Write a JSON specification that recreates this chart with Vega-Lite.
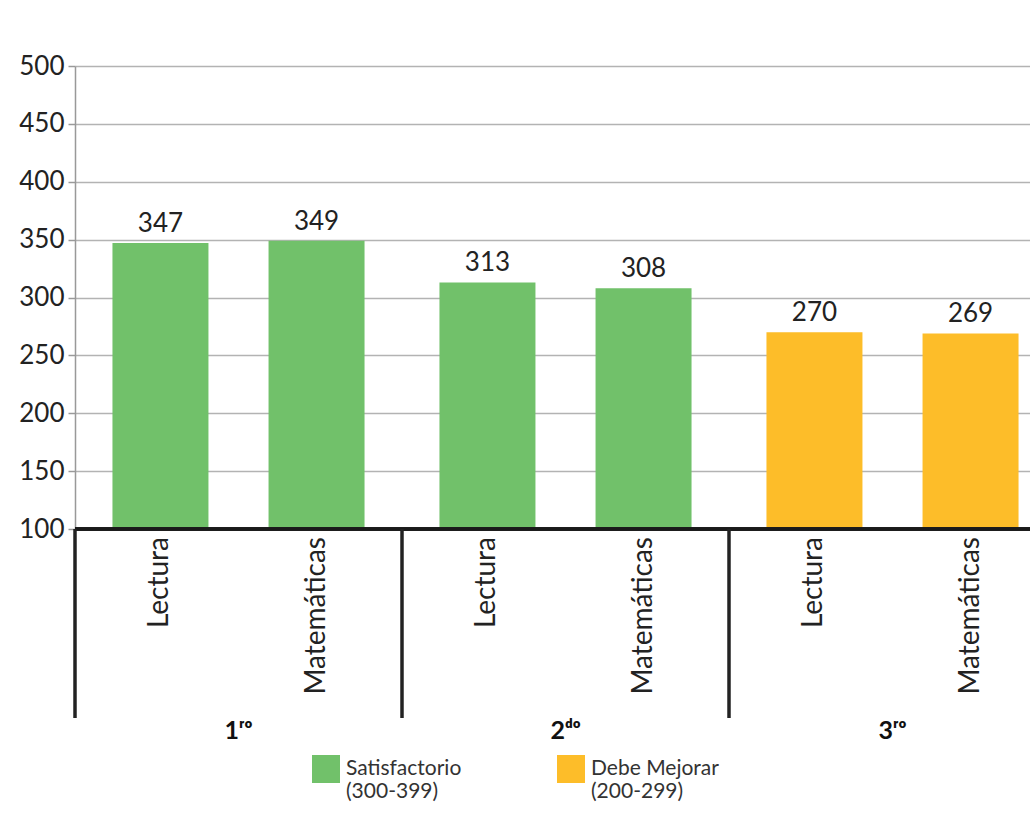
{
  "$schema": "https://vega.github.io/schema/vega-lite/v6.json",
  "background": "white",
  "padding": {"left": 15, "top": 53, "right": 0, "bottom": 0},
  "bounds": "flush",
  "config": {"font": "Lato", "view": {"stroke": null}},
  "spacing": 0,
  "data": {"values": [
    {"grade": "1ʳᵒ", "subject": "Lectura", "score": 347, "nivel": "Satisfactorio|(300-399)"},
    {"grade": "1ʳᵒ", "subject": "Matemáticas", "score": 349, "nivel": "Satisfactorio|(300-399)"},
    {"grade": "2ᵈᵒ", "subject": "Lectura", "score": 313, "nivel": "Satisfactorio|(300-399)"},
    {"grade": "2ᵈᵒ", "subject": "Matemáticas", "score": 308, "nivel": "Satisfactorio|(300-399)"},
    {"grade": "3ʳᵒ", "subject": "Lectura", "score": 270, "nivel": "Debe Mejorar|(200-299)"},
    {"grade": "3ʳᵒ", "subject": "Matemáticas", "score": 269, "nivel": "Debe Mejorar|(200-299)"}
  ]},
  "vconcat": [
    {
      "width": 981,
      "height": 463,
      "layer": [
        {
          "mark": {"type": "bar"},
          "encoding": {
            "x": {"field": "grade", "type": "nominal", "sort": null, "scale": {"paddingInner": 0, "paddingOuter": 0}, "axis": null},
            "xOffset": {"field": "subject", "type": "nominal", "sort": null, "scale": {"paddingInner": 0.385, "paddingOuter": 0.24}},
            "y": {"field": "score", "type": "quantitative", "scale": {"domain": [100, 500], "nice": false, "zero": false},
              "axis": {"values": [100, 150, 200, 250, 300, 350, 400, 450, 500], "title": null, "grid": true, "gridColor": "#b3b3b3", "gridWidth": 1.5, "domainColor": "#999999", "domainWidth": 1.5, "tickColor": "#999999", "tickSize": 7, "tickWidth": 1.5, "labelFontSize": 26, "labelColor": "#222222", "labelPadding": 4, "minExtent": 60, "maxExtent": 60}},
            "y2": {"datum": 100},
            "color": {"field": "nivel", "type": "nominal",
              "scale": {"domain": ["Satisfactorio|(300-399)", "Debe Mejorar|(200-299)"], "range": ["#71c16a", "#fdbd29"]},
              "legend": {"orient": "none", "legendX": 237, "legendY": 689, "direction": "horizontal", "columns": 2, "title": null, "symbolType": "square", "symbolSize": 784, "symbolStrokeWidth": 0, "symbolOpacity": 1, "labelFontSize": 21, "labelColor": "#333333", "labelOffset": 6, "columnPadding": 95, "labelLimit": 300, "labelExpr": "split(datum.label, '|')"}}
          }
        },
        {
          "mark": {"type": "text", "baseline": "bottom", "dy": -6, "fontSize": 26, "color": "#222222"},
          "encoding": {
            "x": {"field": "grade", "type": "nominal", "sort": null},
            "xOffset": {"field": "subject", "type": "nominal", "sort": null},
            "y": {"field": "score", "type": "quantitative"},
            "text": {"field": "score", "type": "quantitative"}
          }
        },
        {
          "mark": {"type": "rule", "color": "#1a1a1a", "strokeWidth": 3},
          "encoding": {"y": {"datum": 100}}
        }
      ]
    },
    {
      "width": 981,
      "height": 189,
      "encoding": {
        "x": {"field": "grade", "type": "nominal", "sort": null, "scale": {"paddingInner": 0, "paddingOuter": 0},
          "axis": {"title": null, "domain": false, "ticks": false, "labelAngle": 0, "labelFontSize": 25, "labelFontWeight": "bold", "labelColor": "#111111", "labelPadding": 0}}
      },
      "layer": [
        {
          "mark": {"type": "text", "angle": 270, "align": "right", "baseline": "middle", "dx": -8, "fontSize": 28, "color": "#222222"},
          "encoding": {
            "xOffset": {"field": "subject", "type": "nominal", "sort": null, "scale": {"paddingInner": 0.385, "paddingOuter": 0.24}},
            "y": {"datum": 1, "type": "quantitative", "scale": {"domain": [0, 1]}, "axis": null},
            "text": {"field": "subject", "type": "nominal"}
          }
        },
        {
          "mark": {"type": "rule", "color": "#222222", "strokeWidth": 3},
          "encoding": {"x": {"field": "grade", "type": "nominal", "sort": null, "bandPosition": 0}}
        }
      ]
    }
  ]
}
